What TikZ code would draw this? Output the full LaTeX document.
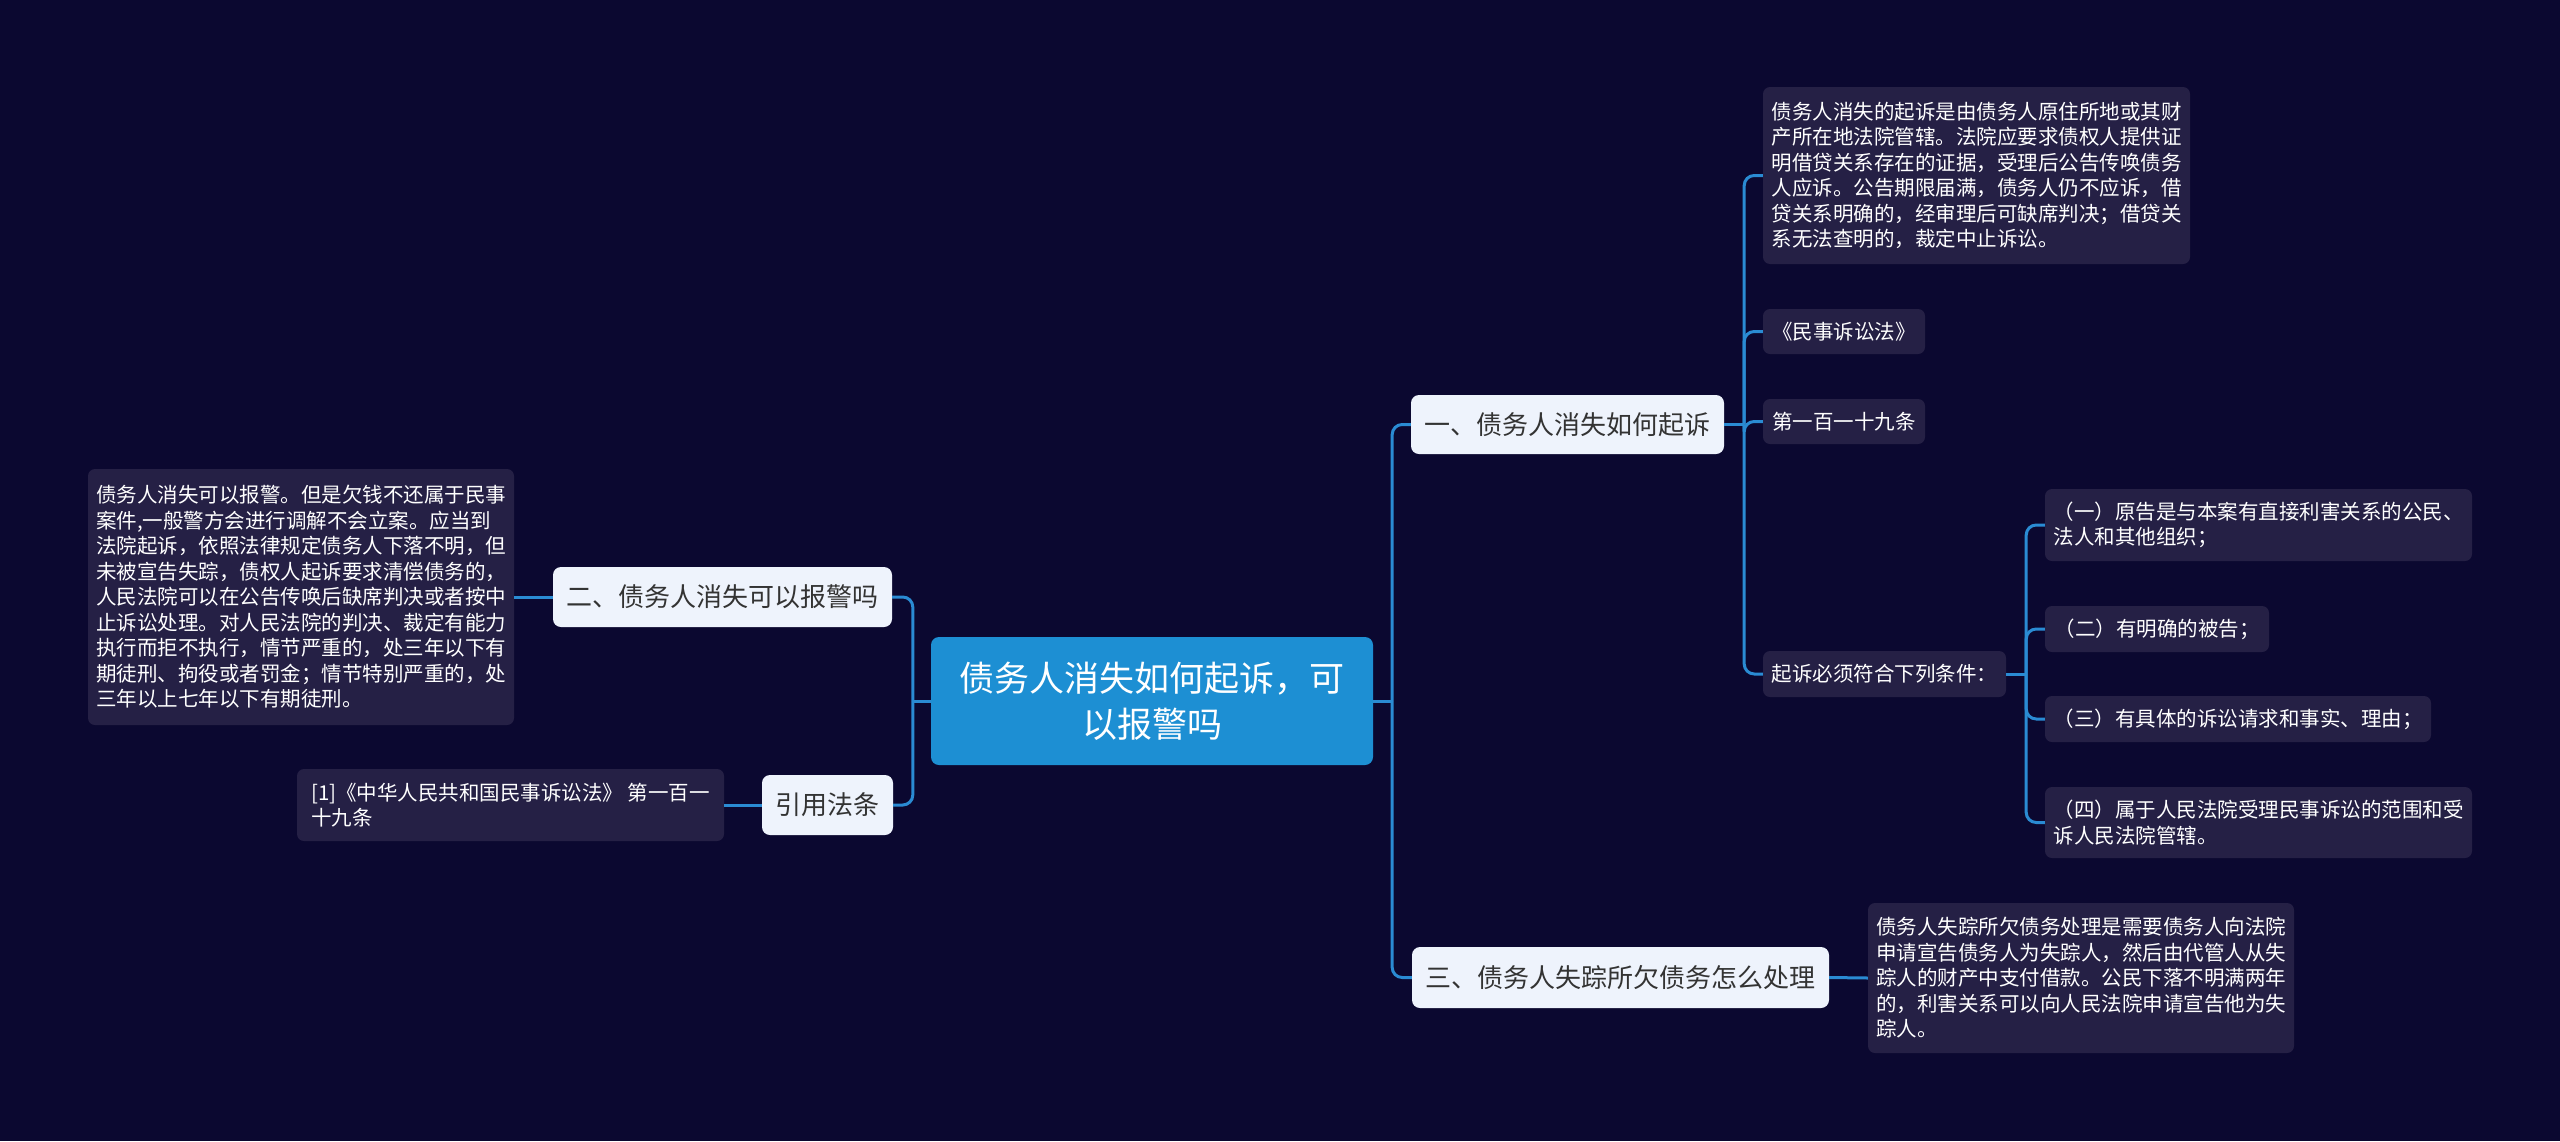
\documentclass[tikz,border=0pt]{standalone}
\usepackage{fontspec}
\setmainfont{Noto Sans CJK SC}
\definecolor{bg}{HTML}{0B0830}
\definecolor{lineblue}{HTML}{2A8BD3}
\definecolor{rootfill}{HTML}{1D8FD3}
\definecolor{lonefill}{HTML}{EEF3FC}
\definecolor{lonetext}{HTML}{333333}
\definecolor{detfill}{HTML}{252045}
\begin{document}
\begin{tikzpicture}[x=1pt,y=-1pt,
  root/.style={fill=rootfill, rounded corners=8pt, text=white, minimum width=442pt, minimum height=128pt, align=center, font=\fontsize{35}{46}\selectfont, inner sep=0pt},
  lone/.style={fill=lonefill, rounded corners=8pt, text=lonetext, minimum height=60pt, font=\fontsize{26}{30}\selectfont, inner sep=0pt},
  det/.style={fill=detfill, rounded corners=7pt, text=white, align=left, font=\fontsize{20.5}{25.5}\selectfont, inner sep=0pt},
  conn/.style={draw=lineblue, line width=3pt, rounded corners=10pt},
  stub/.style={draw=lineblue, line width=3pt}
]
\fill[bg] (0,0) rectangle (2560,1141);
\useasboundingbox (0,0) rectangle (2560,1141);

% main nodes
\node[root] (root) at (1152,701) {债务人消失如何起诉，可\\以报警吗};
\node[lone, minimum width=313pt, minimum height=59pt] (n1) at (1567.5,424.5) {一、债务人消失如何起诉};
\node[lone, minimum width=339pt] (n2) at (722.5,597) {二、债务人消失可以报警吗};
\node[lone, minimum width=417pt, minimum height=61pt] (n3) at (1620.5,977.5) {三、债务人失踪所欠债务怎么处理};
\node[lone, minimum width=131pt] (n4) at (827.5,805) {引用法条};

% details of branch one
\node[det, minimum width=427pt, minimum height=177pt] (d11) at (1976.5,175.5) {债务人消失的起诉是由债务人原住所地或其财\\产所在地法院管辖。法院应要求债权人提供证\\明借贷关系存在的证据，受理后公告传唤债务\\人应诉。公告期限届满，债务人仍不应诉，借\\贷关系明确的，经审理后可缺席判决；借贷关\\系无法查明的，裁定中止诉讼。};
\node[det, minimum width=162pt, minimum height=45pt] (d12) at (1844,331.5) {《民事诉讼法》};
\node[det, minimum width=162pt, minimum height=45pt] (d13) at (1844,421.5) {第一百一十九条};
\node[det, minimum width=243pt, minimum height=46pt] (d14) at (1884.5,674) {起诉必须符合下列条件：};

\node[det, minimum width=427pt, minimum height=72pt] (c1) at (2258.5,525) {（一）原告是与本案有直接利害关系的公民、\\法人和其他组织；};
\node[det, minimum width=224pt, minimum height=46pt] (c2) at (2157,629) {（二）有明确的被告；};
\node[det, minimum width=386pt, minimum height=46pt] (c3) at (2238,719) {（三）有具体的诉讼请求和事实、理由；};
\node[det, minimum width=427pt, minimum height=71pt] (c4) at (2258.5,822.5) {（四）属于人民法院受理民事诉讼的范围和受\\诉人民法院管辖。};

% detail of branch three
\node[det, minimum width=426pt, minimum height=150pt] (d31) at (2081,978) {债务人失踪所欠债务处理是需要债务人向法院\\申请宣告债务人为失踪人，然后由代管人从失\\踪人的财产中支付借款。公民下落不明满两年\\的，利害关系可以向人民法院申请宣告他为失\\踪人。};

% detail of branch two
\node[det, minimum width=426pt, minimum height=256pt] (d21) at (301,597) {债务人消失可以报警。但是欠钱不还属于民事\\案件,一般警方会进行调解不会立案。应当到\\法院起诉，依照法律规定债务人下落不明，但\\未被宣告失踪，债权人起诉要求清偿债务的，\\人民法院可以在公告传唤后缺席判决或者按中\\止诉讼处理。对人民法院的判决、裁定有能力\\执行而拒不执行，情节严重的，处三年以下有\\期徒刑、拘役或者罚金；情节特别严重的，处\\三年以上七年以下有期徒刑。};

% detail of citation
\node[det, minimum width=427pt, minimum height=72pt] (d41) at (510.5,805) {[1]《中华人民共和国民事诉讼法》 第一百一\\十九条};

% connectors: straight stubs into plain T junctions, rounded only at the children
\draw[stub] (root.east) -- ++(19,0) coordinate (jr);
\draw[conn] (jr) |- (n1.west);
\draw[conn] (jr) |- (n3.west);
\draw[stub] (root.west) -- ++(-18,0) coordinate (jl);
\draw[conn] (jl) |- (n2.east);
\draw[conn] (jl) |- (n4.east);

\draw[stub] (n1.east) -- ++(20,0) coordinate (j1);
\draw[conn] (j1) |- (d11.west);
\draw[conn] (j1) |- (d12.west);
\draw[conn] (j1) |- (d13.west);
\draw[conn] (j1) |- (d14.west);

\draw[stub] (d14.east) -- ++(20,0) coordinate (j2);
\draw[conn] (j2) |- (c1.west);
\draw[conn] (j2) |- (c2.west);
\draw[conn] (j2) |- (c3.west);
\draw[conn] (j2) |- (c4.west);

\draw[stub] (n3.east) -- (d31.west);
\draw[stub] (n2.west) -- (d21.east);
\draw[stub] (n4.west) -- (d41.east);
\end{tikzpicture}
\end{document}
